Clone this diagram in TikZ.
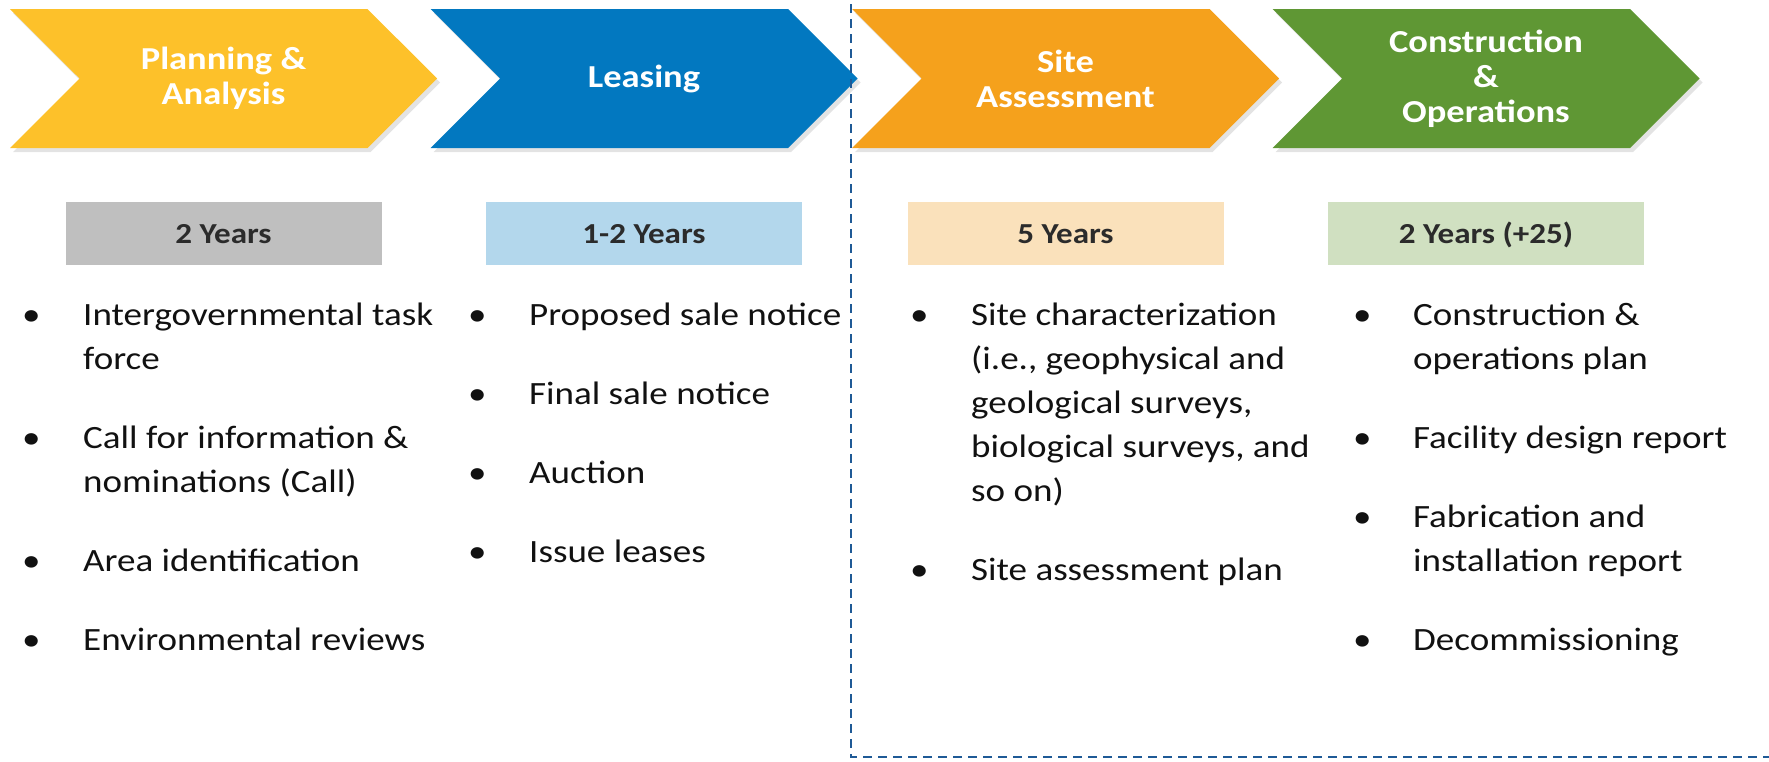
\documentclass[tikz,border=0pt]{standalone}
\usepackage{fontspec}
\setmainfont[FakeStretch=1.14]{Carlito}
\usepackage{xcolor}
\usepackage{tikz}
\usetikzlibrary{positioning,shapes.symbols,shadows}

\definecolor{planfill}{HTML}{FDC12A}
\definecolor{leasefill}{HTML}{0278C0}
\definecolor{sitefill}{HTML}{F5A11C}
\definecolor{consfill}{HTML}{5F9734}
\definecolor{plantime}{HTML}{BFBFBF}
\definecolor{leasetime}{HTML}{B3D7EC}
\definecolor{sitetime}{HTML}{FAE1BB}
\definecolor{constime}{HTML}{D0E0C1}
\definecolor{timetext}{HTML}{2B2B2B}
\definecolor{itemtext}{HTML}{111111}
\definecolor{dashblue}{HTML}{1F5A96}

\begin{document}
\begin{tikzpicture}[
  x=1pt, y=-1pt,
  node distance=54pt,
  stage/.style={signal, signal from=west, signal to=east, signal pointer angle=90,
    minimum width=427pt, minimum height=139pt, inner sep=0pt, text=white, align=center,
    font=\fontsize{32}{35}\selectfont\bfseries,
    drop shadow={shadow xshift=3pt, shadow yshift=-4pt, opacity=0.22}},
  years/.style={minimum width=316pt, minimum height=63pt, inner sep=0pt,
    text height=18.5pt, text depth=0pt,
    text=timetext, font=\fontsize{29}{32}\selectfont\bfseries},
  items/.style={anchor=base west, inner sep=0pt, text=itemtext,
    font=\fontsize{32.5}{44}\selectfont},
  divider/.style={draw=dashblue, line width=2.5pt, dash pattern=on 9pt off 6pt}
]
\useasboundingbox (0,0) rectangle (1769,761);

% phases
\node[stage, fill=planfill] (plan) at (223.5,78.5) {Planning \&\\Analysis};
\node[stage, fill=leasefill] (lease) at (644,78.5) {Leasing};
\node[stage, fill=sitefill] (site) at (1065.5,78.5) {Site\\Assessment};
\node[stage, fill=consfill] (cons) at (1486,78.5) {Construction\\\&\\Operations};

% durations
\node[years, fill=plantime, below=of plan] (plant) {2 Years};
\node[years, fill=leasetime, below=of lease] (leaset) {1-2 Years};
\node[years, fill=sitetime, below=of site] (sitet) {5 Years};
\node[years, fill=constime, below=of cons] (const) {2 Years (+25)};

% tasks per phase
\node[items] (planl) at (22,325) {\begin{tabular}[t]{@{}p{61pt}@{}l@{}}
\textbullet & Intergovernmental task\\
 & force\\[35pt]
\textbullet & Call for information \&\\
 & nominations (Call)\\[35pt]
\textbullet & Area identification\\[35pt]
\textbullet & Environmental reviews
\end{tabular}};
\node[items] (leasel) at (468,325) {\begin{tabular}[t]{@{}p{61pt}@{}l@{}}
\textbullet & Proposed sale notice\\[35pt]
\textbullet & Final sale notice\\[35pt]
\textbullet & Auction\\[35pt]
\textbullet & Issue leases
\end{tabular}};
\node[items] (sitel) at (910,325) {\begin{tabular}[t]{@{}p{61pt}@{}l@{}}
\textbullet & Site characterization\\
 & (i.e., geophysical and\\
 & geological surveys,\\
 & biological surveys, and\\
 & so on)\\[35pt]
\textbullet & Site assessment plan
\end{tabular}};
\node[items] (consl) at (1353,325) {\begin{tabular}[t]{@{}p{60pt}@{}l@{}}
\textbullet & Construction \&\\
 & operations plan\\[35pt]
\textbullet & Facility design report\\[35pt]
\textbullet & Fabrication and\\
 & installation report\\[35pt]
\textbullet & Decommissioning
\end{tabular}};

% boundary of the later phases
\draw[divider] (851,4) -- (851,757) -- (1769,757);
\end{tikzpicture}
\end{document}
